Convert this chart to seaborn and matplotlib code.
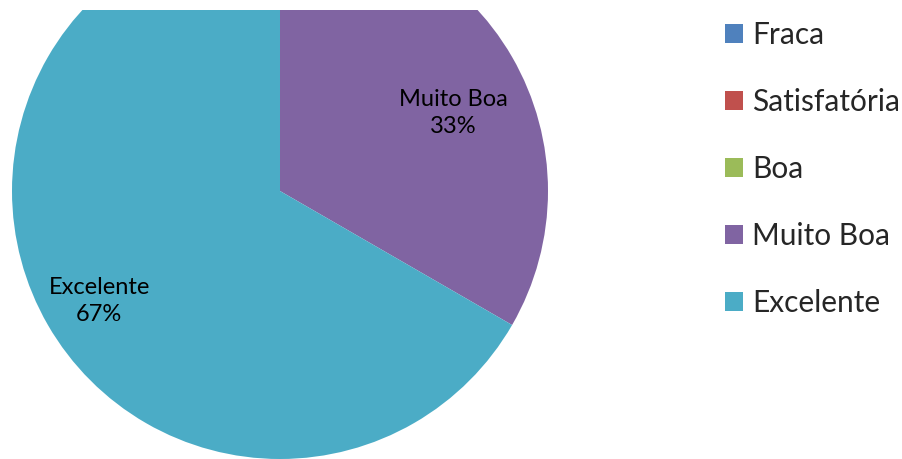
import numpy as np
import matplotlib
matplotlib.use("Agg")
import matplotlib.pyplot as plt
import seaborn as sns
from matplotlib.patches import Patch

sns.set_theme(style="white")
plt.rcParams["font.family"] = ["Lato", "DejaVu Sans"]

# ── Data ────────────────────────────────────────────────────────────────────
categories = ["Fraca", "Satisfatória", "Boa", "Muito Boa", "Excelente"]
counts = [0, 0, 0, 1, 2]
colors = sns.color_palette(["#4F81BD", "#C0504D", "#9BBB59", "#8064A2", "#4BACC6"])

# ── Figure ──────────────────────────────────────────────────────────────────
W, H = 902, 459
cx, cy, r = 280, 191, 268   # pie centre / radius in pixels
top = 10                    # plot area starts 10px below the top edge
fig = plt.figure(figsize=(W / 100, H / 100), dpi=100)
ax = fig.add_axes([0, 0, 1, (H - top) / H])

wedges, _ = ax.pie(counts, colors=colors, startangle=90, counterclock=False,
                   radius=1, wedgeprops=dict(linewidth=0))
for w in wedges:
    w.set_clip_on(True)
    w.set_clip_path(ax.patch)
ax.set_aspect("auto")
ax.set_xlim(-cx / r, (W - cx) / r)
ax.set_ylim(-(H - cy) / r, (cy - top) / r)
ax.axis("off")

# label placement (distance from centre, angle tweak in degrees)
label_pos = {"Muito Boa": (0.71, -5.8), "Excelente": (0.79, 1.3)}
total = sum(counts)
for w, cat, val in zip(wedges, categories, counts):
    if val == 0:
        continue
    d, tweak = label_pos.get(cat, (0.75, 0))
    ang = np.deg2rad((w.theta1 + w.theta2) / 2 + tweak)
    ax.text(d * np.cos(ang), d * np.sin(ang),
            f"{cat}\n{val / total * 100:.0f}%", ha="center", va="center",
            fontsize=17, color="black", linespacing=1.3)

handles = [Patch(facecolor=c, edgecolor="none") for c in colors]
fig.legend(handles, categories, loc="center left",
           bbox_to_anchor=(725 / W, 1 - 169 / H), frameon=False,
           fontsize=21.5, handlelength=0.6, handleheight=0.6,
           handletextpad=0.3, labelspacing=1.30, borderpad=0,
           borderaxespad=0)

plt.savefig("out.png", dpi=100)
